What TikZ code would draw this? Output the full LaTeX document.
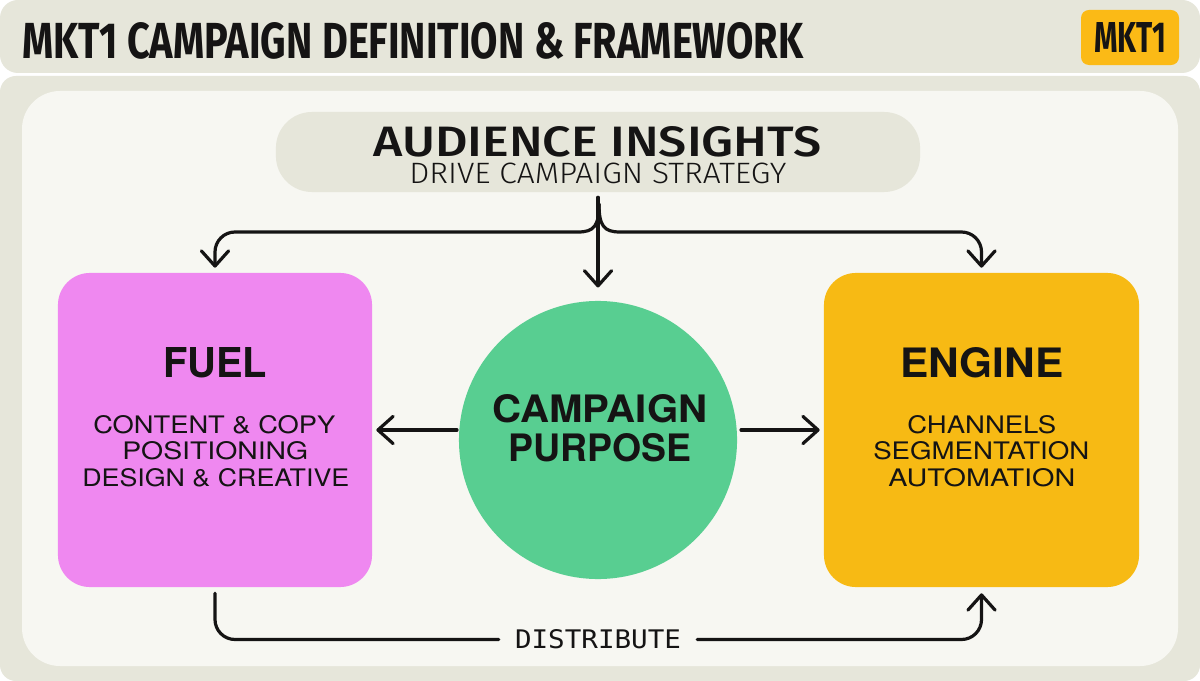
\documentclass[tikz,border=0pt]{standalone}
\usepackage{fontspec}
\setmainfont{TeX Gyre Heros}
\newfontfamily\titlefont{Fira Sans}
\newfontfamily\lightfont{Fira Sans}[UprightFont=* Light]
\newfontfamily\medfont{Fira Sans}[UprightFont=* Medium]
\newfontfamily\distfont{DejaVu Sans Mono}
\usetikzlibrary{arrows.meta}
\newlength\pxu
\setlength\pxu{0.025cm}
\newcommand\fitbox[3]{\resizebox{#1\pxu}{#2\pxu}{#3}}
\definecolor{bgbeige}{HTML}{E6E6DA}
\definecolor{panel}{HTML}{F7F7F2}
\definecolor{fuelc}{HTML}{EF88F0}
\definecolor{enginec}{HTML}{F7BA14}
\definecolor{greenc}{HTML}{58CE91}
\definecolor{badgec}{HTML}{FBBA16}
\definecolor{ink}{HTML}{151414}
\tikzset{
  txt/.style={anchor=north west, inner sep=0pt, text=ink},
  conn/.style={draw=ink, line width=0.08cm, line cap=round, line join=round},
  box/.style={fill=#1, draw=none, minimum width=7.85cm, minimum height=7.85cm, rounded corners=0.8cm},
  >={Straight Barb[length=0.38cm,width=0.68cm,round]}
}
\begin{document}
\begin{tikzpicture}[x=0.025cm,y=-0.025cm]
\useasboundingbox (0,0) rectangle (1200,681);
\fill[white] (0,0) rectangle (1200,681);
% background shapes
\fill[bgbeige, rounded corners=0.45cm] (0,0) rectangle (1200,73);
\fill[bgbeige, rounded corners=0.4cm] (0,76) rectangle (1200,681);
\fill[panel, rounded corners=0.95cm] (22,91) rectangle (1178,666);
% title
\node[txt] (title) at (22,22) {\fitbox{781}{36}{\titlefont\bfseries MKT1 CAMPAIGN DEFINITION \& FRAMEWORK}};
\node[fill=badgec, rounded corners=0.2cm, minimum width=2.45cm, minimum height=1.375cm, inner sep=0pt, text=ink] (badge) at (1130,37.5) {\fitbox{72}{30}{\titlefont\bfseries MKT1}};
% audience pill
\node[fill=bgbeige, rounded corners=0.9cm, minimum width=16.1cm, minimum height=2cm] (pill) at (598,152) {};
\node[txt] (aud) at (373,126) {\fitbox{448}{30}{\medfont AUDIENCE INSIGHTS}};
\node[txt] (drive) at (409,162.5) {\fitbox{377}{20.5}{\lightfont DRIVE CAMPAIGN STRATEGY}};
% fuel
\node[box=fuelc] (fuel) at (215,430) {};
\node[txt] (fuelt) at (163,347) {\fitbox{104}{30}{\bfseries FUEL}};
\node[txt] (f1) at (93,415) {\fitbox{242}{18}{CONTENT \& COPY}};
\node[txt] (f2) at (122,441) {\fitbox{186}{18}{POSITIONING}};
\node[txt] (f3) at (82,468) {\fitbox{267}{18}{DESIGN \& CREATIVE}};
% engine
\node[box=enginec, minimum width=7.875cm] (engine) at (981.5,430) {};
\node[txt] (enginet) at (900,347) {\fitbox{163}{30}{\bfseries ENGINE}};
\node[txt] (e1) at (907,415) {\fitbox{149}{18}{CHANNELS}};
\node[txt] (e2) at (873,441) {\fitbox{216}{18}{SEGMENTATION}};
\node[txt] (e3) at (888,468) {\fitbox{187}{18}{AUTOMATION}};
% purpose circle
\node[circle, fill=greenc, minimum size=6.95cm, inner sep=0pt] (purpose) at (598,440) {};
\node[txt] (p1) at (492,394) {\fitbox{215}{28}{\bfseries CAMPAIGN}};
\node[txt] (p2) at (508,433) {\fitbox{183}{28}{\bfseries PURPOSE}};
% distribute label
\node[inner xsep=0.4cm, inner ysep=0pt, text=ink] (dist) at (598,639.5) {\fitbox{166}{19}{\distfont DISTRIBUTE}};
% connectors
\coordinate (jt) at (599,204);
\coordinate (pl) at (457,430);
\coordinate (pr) at (741,430);
\draw[conn, ->, shorten <=0.125cm, shorten >=0.33cm] (pill.south) -- (purpose.north);
\draw[conn, ->, shorten >=0.125cm] (jt) .. controls (599,226) and (594,232) .. (578,232) [rounded corners=0.5cm] -| (fuel.north);
\draw[conn, ->, shorten >=0.125cm] (jt) .. controls (599,226) and (604,232) .. (620,232) [rounded corners=0.5cm] -| (engine.north);
\draw[conn, ->, shorten >=0.1cm] (pl) -- (fuel.east);
\draw[conn, ->, shorten >=0.1cm] (pr) -- (engine.west);
\draw[conn, rounded corners=0.5cm, shorten <=0.15cm] (fuel.south) |- (dist.west);
\draw[conn, ->, rounded corners=0.5cm, shorten >=0.15cm] (dist.east) -| (engine.south);
\end{tikzpicture}
\end{document}
